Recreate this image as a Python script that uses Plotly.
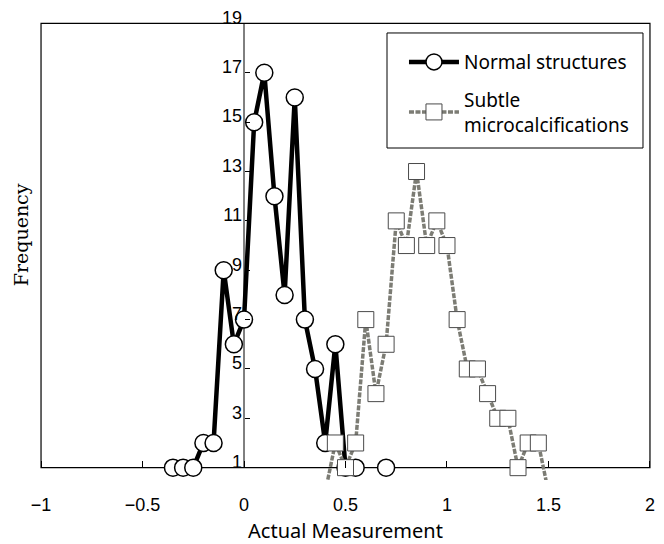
import plotly.graph_objects as go

# ---- data ----
normal_x = [-0.35, -0.3, -0.25, -0.2, -0.15, -0.1, -0.05, 0.0, 0.05, 0.1, 0.15,
            0.2, 0.25, 0.3, 0.35, 0.4, 0.45, 0.5, 0.55, 0.6, 0.65, 0.7]
normal_y = [1, 1, 1, 2, 2, 9, 6, 7, 15, 17, 12,
            8, 16, 7, 5, 2, 6, 1, 1, None, None, 1]

subtle_x = [0.4, 0.45, 0.5, 0.55, 0.6, 0.65, 0.7, 0.75, 0.8, 0.85, 0.9, 0.95,
            1.0, 1.05, 1.1, 1.15, 1.2, 1.25, 1.3, 1.35, 1.4, 1.45, 1.5]
subtle_y = [0, 2, 1, 2, 7, 4, 6, 11, 10, 13, 10, 11,
            10, 7, 5, 5, 4, 3, 3, 1, 2, 2, 0]

x_ticks = [-1, -0.5, 0, 0.5, 1, 1.5, 2]
x_tick_text = ["\u22121", "\u22120.5", "0", "0.5", "1", "1.5", "2"]
y_ticks = [1, 3, 5, 7, 9, 11, 13, 15, 17, 19]

X_RANGE = [-1.01, 2.01]
Y_RANGE = [0.5, 19.1]

tick_font = dict(family="Liberation Sans, Arial", size=18, color="black")
legend_font = dict(family="Noto Sans, Liberation Sans, Arial", size=19, color="black")
title_font = dict(family="Noto Sans, Liberation Sans, Arial", size=20, color="black")

fig = go.Figure()

fig.add_trace(go.Scatter(
    x=normal_x, y=normal_y, mode="lines+markers", name="Normal structures",
    legendgroup="a", connectgaps=False,
    line=dict(color="black", width=4.5),
    marker=dict(symbol="circle", size=17, color="white",
                line=dict(color="black", width=1.5)),
))

fig.add_trace(go.Scatter(
    x=subtle_x, y=subtle_y, mode="lines+markers",
    name="Subtle<br>microcalcifications", legendgroup="b",
    line=dict(color="#7c7c74", width=3.5, dash="5px,1.5px"),
    marker=dict(symbol="square", size=16, color="white",
                line=dict(color="#4a4a4a", width=1)),
))

# frame and y axis line (at x = 0)
fig.add_shape(type="rect", x0=-1, x1=2, y0=1, y1=19, xref="x", yref="y",
              line=dict(color="black", width=1.2), layer="below")
fig.add_shape(type="line", x0=0, x1=0, y0=1, y1=19, xref="x", yref="y",
              line=dict(color="black", width=1), layer="below")
# legend box
fig.add_shape(type="rect", x0=0.5677, x1=0.9853, y0=0.7233, y1=0.9739,
              xref="paper", yref="paper",
              line=dict(color="black", width=1), fillcolor="white", layer="below")

x_pos = (0 - X_RANGE[0]) / (X_RANGE[1] - X_RANGE[0])
y_pos = (1 - Y_RANGE[0]) / (Y_RANGE[1] - Y_RANGE[0])

fig.update_layout(
    width=664, height=544,
    margin=dict(l=39, r=12, t=21, b=64),
    paper_bgcolor="white", plot_bgcolor="white",
    showlegend=True,
    legend=dict(
        x=0.5954, y=0.952, xanchor="left", yanchor="top",
        bgcolor="rgba(0,0,0,0)", borderwidth=0,
        font=legend_font, tracegroupgap=10, itemwidth=50,
    ),
    xaxis=dict(
        range=X_RANGE, anchor="free", position=y_pos, side="bottom",
        tickvals=x_ticks, ticktext=x_tick_text,
        ticks="inside", ticklen=7, tickcolor="black", tickwidth=1.2,
        showgrid=False, zeroline=False, showline=False,
        tickfont=tick_font, ticklabelstandoff=24,
        title=dict(text="Actual Measurement", font=title_font, standoff=10),
        automargin=False,
    ),
    yaxis=dict(
        range=Y_RANGE, anchor="free", position=x_pos, side="left",
        tickvals=y_ticks,
        ticks="inside", ticklen=5, tickcolor="black", tickwidth=1,
        showgrid=False, zeroline=False, showline=False,
        tickfont=tick_font, ticklabelshift=-6, ticklabelstandoff=2,
        automargin=False,
    ),
    annotations=[dict(
        text="Frequency", xref="paper", yref="paper",
        x=-0.028, y=0.535, xanchor="center", yanchor="middle",
        textangle=-90, showarrow=False,
        font=dict(family="DejaVu Serif, Liberation Serif, serif", size=19, color="black"),
    )],
)

fig.write_html("out.html", post_script="document.body.style.margin='0';",
               config={"displayModeBar": False})
